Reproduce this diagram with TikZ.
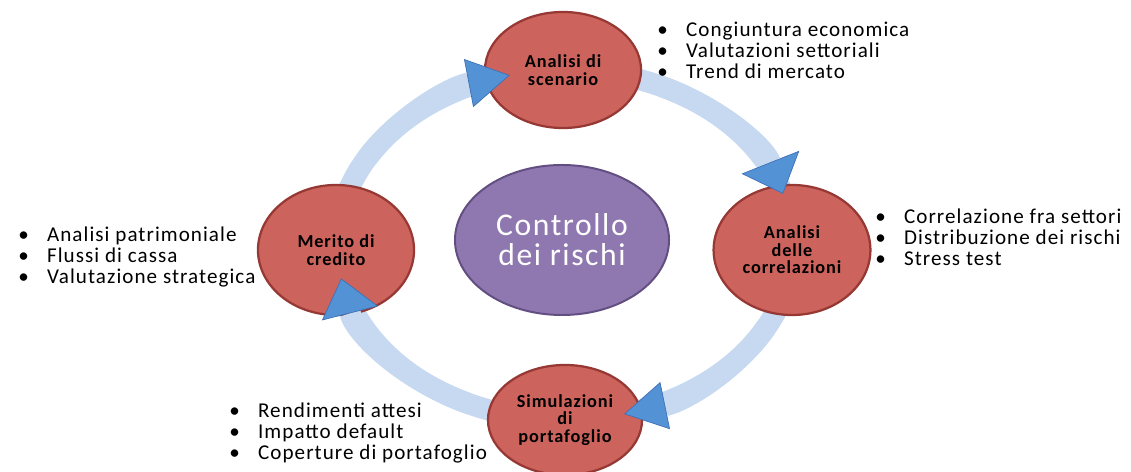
\documentclass[tikz,border=0pt]{standalone}
\usepackage{fontspec}
\setmainfont{Carlito}[LetterSpace=5]
\usetikzlibrary{shapes.geometric,arrows.meta,calc,positioning}
\definecolor{faseRosso}{RGB}{205,99,93}
\definecolor{faseBordo}{RGB}{150,56,52}
\definecolor{centroViola}{RGB}{143,120,176}
\definecolor{centroBordo}{RGB}{98,78,128}
\definecolor{anelloBlu}{RGB}{198,217,241}
\definecolor{puntaBlu}{RGB}{84,146,214}
\definecolor{puntaBordo}{RGB}{62,112,180}
\newcommand{\voce}{\makebox[20.5pt][l]{\textbullet}}

\begin{document}
\begin{tikzpicture}[x=0.025cm,y=0.025cm,
    fase/.style={
      draw=faseBordo,
      fill=faseRosso,
      ellipse,
      line width=1.6pt,
      align=center,
      inner sep=0pt,
      font=\bfseries\fontsize{13}{12.5}\selectfont},
    centro/.style={
      draw=centroBordo,
      fill=centroViola,
      ellipse,
      line width=1.4pt,
      align=center,
      inner sep=0pt,
      text=white,
      font=\fontsize{22.5}{21.5}\selectfont,
      minimum width=5.35cm,
      minimum height=3.75cm},
    elenco/.style={
      align=left,
      inner sep=0pt,
      anchor=west,
      font=\fontsize{15}{15}\selectfont},
    anello/.style={draw=anelloBlu, line width=0.53cm},
    freccia/.style 2 args={anello,
      -{Triangle[length=#1, width=#2, color=puntaBordo, fill=puntaBlu, line width=0.5pt]}}
  ]

  \useasboundingbox (0,0) rectangle (1131,472);
  \coordinate (cerchio) at (565,227);

  % anello di fondo
  \draw[anello] (cerchio) ellipse [x radius=228, y radius=175];

  \node[centro] (controllo) at (562,232) {Controllo\\dei rischi};

  \node[fase, minimum width=3.9cm, minimum height=2.9cm] (scenario) at (563,402) {Analisi di\\scenario};
  \node[fase, minimum width=3.92cm, minimum height=3.25cm] (correlazioni) at (792,222) {Analisi\\delle\\correlazioni};
  \node[fase, minimum width=3.9cm, minimum height=3.25cm] (merito) at (336,222) {Merito di\\credito};
  \node[fase, minimum width=3.85cm, minimum height=2.75cm] (simulazioni) at (565,52) {Simulazioni\\di\\portafoglio};

  % frecce del ciclo, da una fase alla successiva
  \draw[freccia={1.05cm}{1.22cm}] ([shift={(150:228 and 175)}]cerchio)
    arc[start angle=150, end angle=104, x radius=228, y radius=175];
  \draw[freccia={0.85cm}{1.55cm}] ([shift={(65:228 and 175)}]cerchio)
    arc[start angle=65, end angle=17, x radius=228, y radius=175];
  \draw[freccia={1.05cm}{1.2cm}] ([shift={(-28:228 and 175)}]cerchio)
    arc[start angle=-28, end angle=-75, x radius=228, y radius=175];
  \draw[freccia={0.9cm}{1.45cm}] ([shift={(-115:228 and 175)}]cerchio)
    arc[start angle=-115, end angle=-169, x radius=228, y radius=175];

  % elenchi accanto alle fasi
  \node[elenco] (listaScenario) at (657,422) {\voce Congiuntura economica\\\voce Valutazioni settoriali\\\voce Trend di mercato};
  \node[elenco] (listaCorrelazioni) at (875,235) {\voce Correlazione fra settori\\\voce Distribuzione dei rischi\\\voce Stress test};
  \node[elenco] (listaMerito) at (18,215) {\voce Analisi patrimoniale\\\voce Flussi di cassa\\\voce Valutazione strategica};
  \node[elenco] (listaSimulazioni) at (229,39) {\voce Rendimenti attesi\\\voce Impatto default\\\voce Coperture di portafoglio};
\end{tikzpicture}
\end{document}
